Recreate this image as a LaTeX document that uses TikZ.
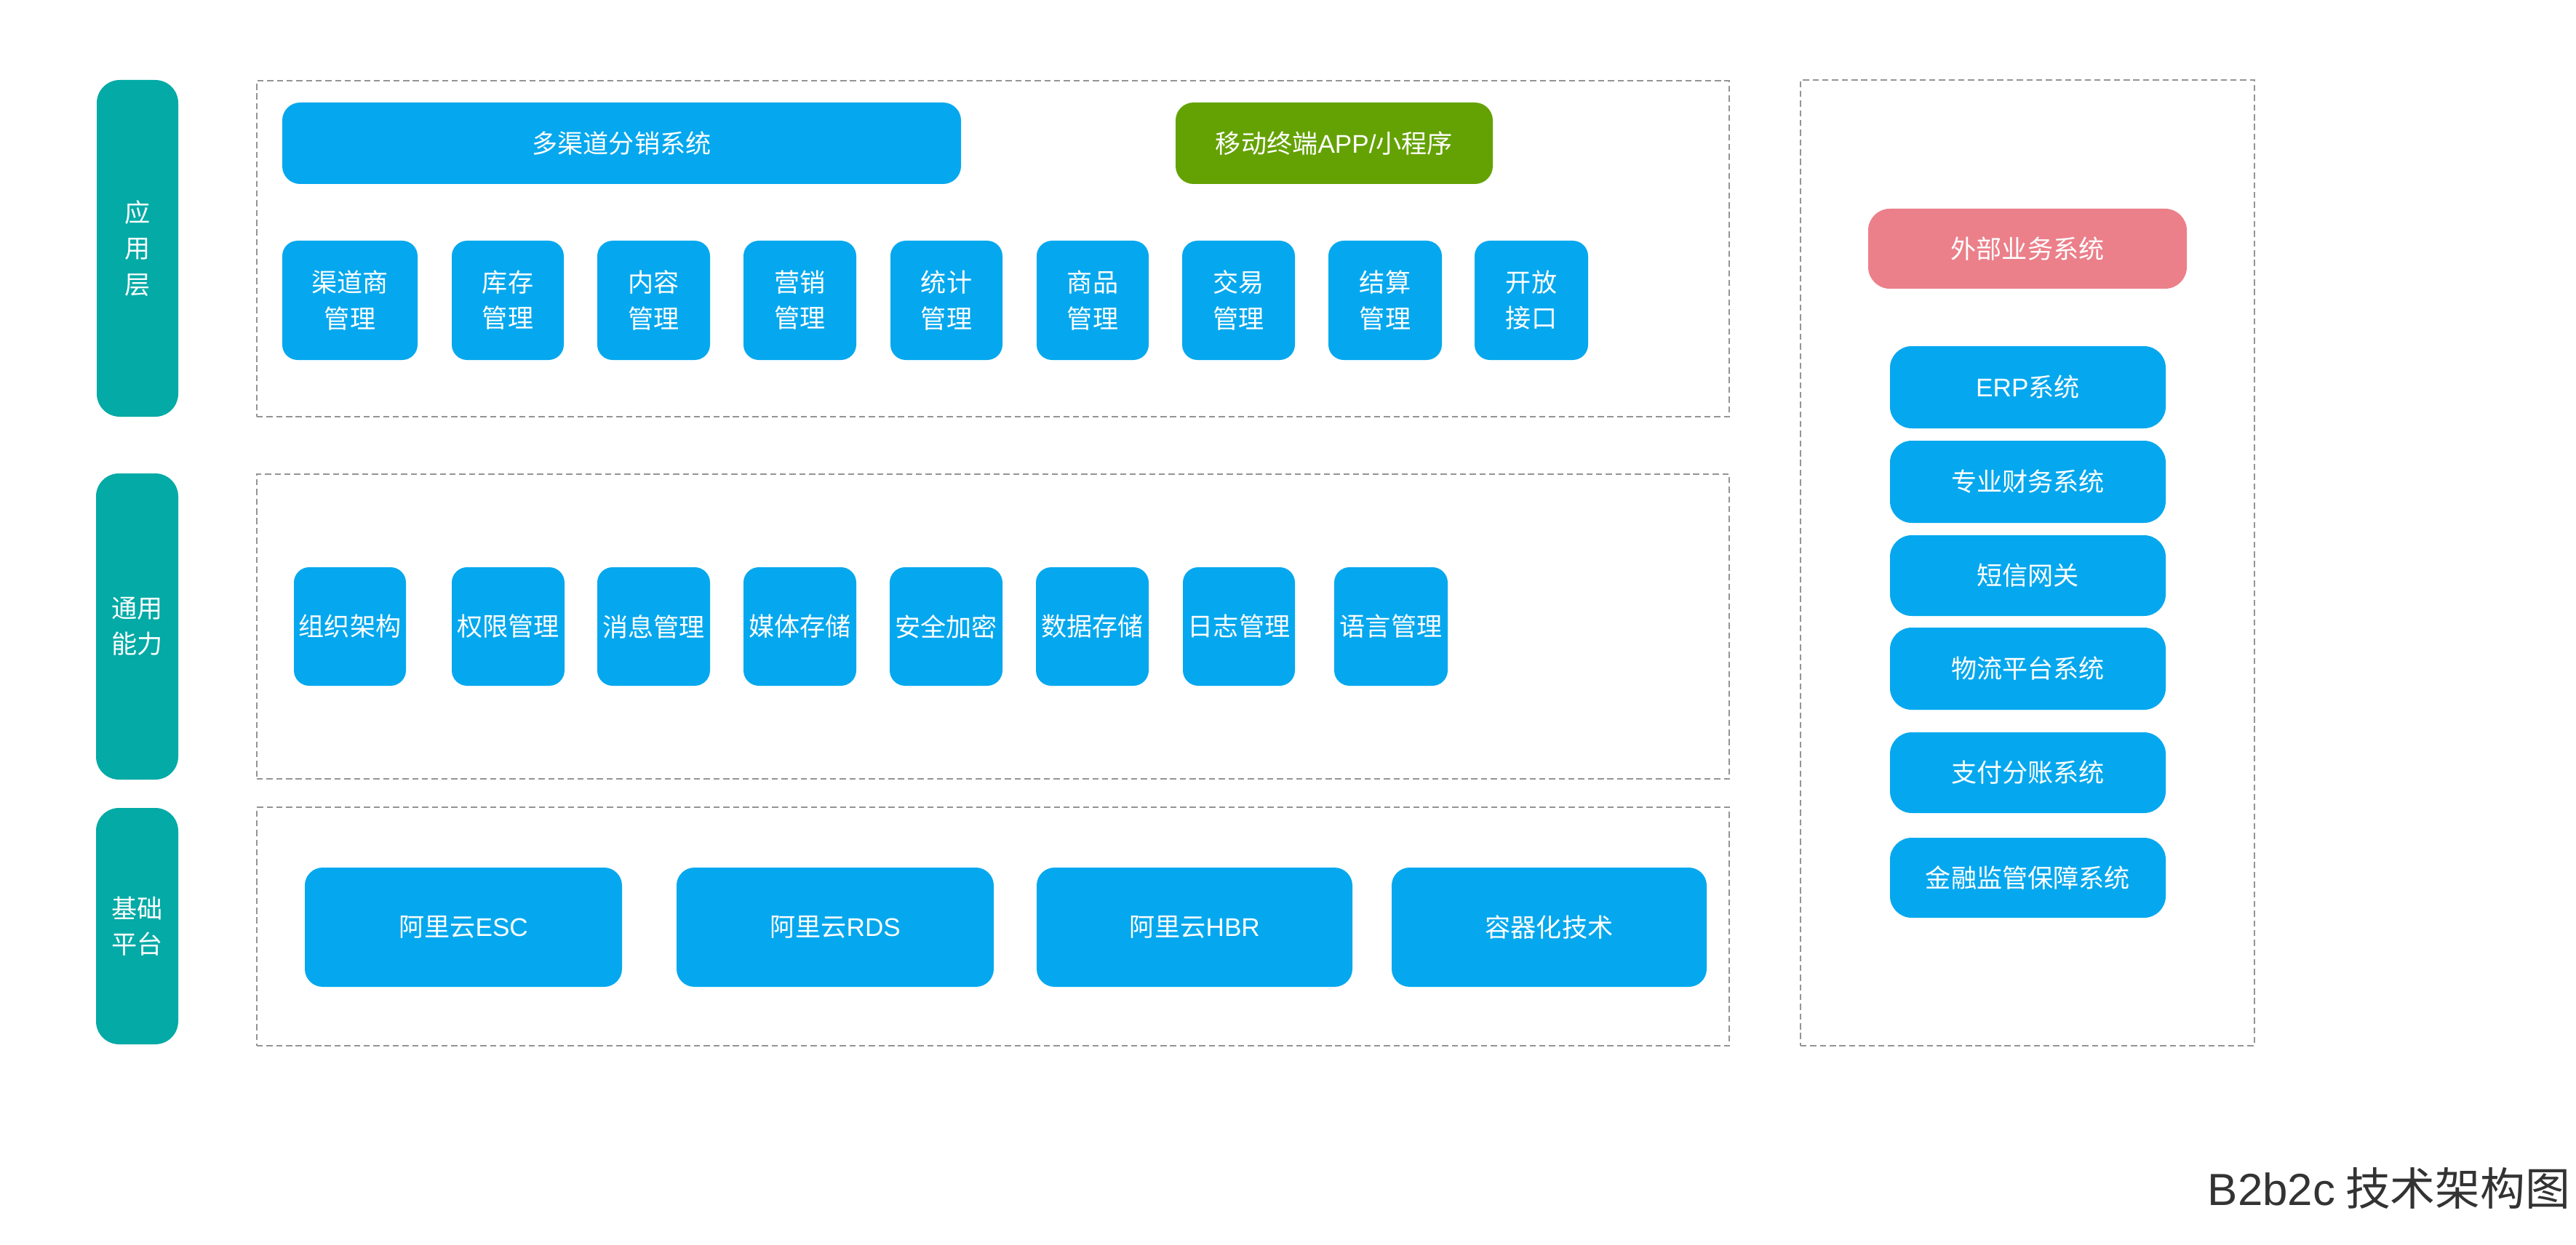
\documentclass[tikz,border=0pt]{standalone}
\usepackage{fontspec}
\setmainfont{Noto Sans CJK SC}
\newfontfamily\latf{Liberation Sans}
\newcommand{\lat}[1]{{\latf #1}}
\definecolor{cblue}{HTML}{05A8EE}
\definecolor{cteal}{HTML}{03AAA6}
\definecolor{cgreen}{HTML}{64A203}
\definecolor{cpink}{HTML}{EB808A}
\definecolor{cdash}{HTML}{949494}
\definecolor{cfoot}{HTML}{333333}
\newcommand{\bx}[7]{%
  \pgfmathsetmacro\mybw{(#4-#2)/100}\pgfmathsetmacro\mybh{(#5-#3)/100}%
  \node[#6, minimum width=\mybw cm, minimum height=\mybh cm] (#1) at ({(#2+#4)/200},{-(#3+#5)/200}) {#7};}
\tikzset{
  boxbase/.style={rectangle, inner sep=0pt, text=white, font=\fontsize{10pt}{14pt}\selectfont, align=center},
  bluebox/.style={boxbase, fill=cblue, rounded corners=6pt},
  sidebox/.style={boxbase, fill=cblue, rounded corners=8.5pt},
  tealbar/.style={boxbase, fill=cteal, rounded corners=9pt},
  greenbox/.style={boxbase, fill=cgreen, rounded corners=7pt},
  pinkbox/.style={boxbase, fill=cpink, rounded corners=8.5pt},
  dashbox/.style={rectangle, inner sep=0pt, draw=cdash, line width=0.5pt, dash pattern=on 2.4pt off 1.4pt},
}
\begin{document}
\begin{tikzpicture}
\useasboundingbox[fill=white] (0,0) rectangle (35.41,-17.12);
% dashed containers
\bx{dapp}{353}{111}{2377}{573}{dashbox}{}
\bx{dgen}{353}{652}{2377}{1071}{dashbox}{}
\bx{dbase}{353}{1110}{2377}{1438}{dashbox}{}
\bx{dext}{2475}{110}{3099}{1438}{dashbox}{}
% layer labels
\bx{l1}{133}{110}{245}{573}{tealbar}{应\\用\\层}
\bx{l2}{132}{651}{245}{1072}{tealbar}{通用\\能力}
\bx{l3}{132}{1111}{245}{1436}{tealbar}{基础\\平台}
% application layer
\bx{multi}{388}{141}{1321}{253}{bluebox, rounded corners=7pt}{多渠道分销系统}
\bx{mobile}{1616}{141}{2052}{253}{greenbox}{移动终端\lat{APP/}小程序}
\bx{a1}{388}{331}{574}{495}{bluebox}{渠道商\\管理}
\bx{a2}{621}{331}{775}{495}{bluebox}{库存\\管理}
\bx{a3}{821}{331}{976}{495}{bluebox}{内容\\管理}
\bx{a4}{1022}{331}{1177}{495}{bluebox}{营销\\管理}
\bx{a5}{1224}{331}{1378}{495}{bluebox}{统计\\管理}
\bx{a6}{1425}{331}{1579}{495}{bluebox}{商品\\管理}
\bx{a7}{1625}{331}{1780}{495}{bluebox}{交易\\管理}
\bx{a8}{1826}{331}{1982}{495}{bluebox}{结算\\管理}
\bx{a9}{2027}{331}{2183}{495}{bluebox}{开放\\接口}
% general capability
\bx{g1}{404}{780}{558}{943}{bluebox}{组织架构}
\bx{g2}{621}{780}{776}{943}{bluebox}{权限管理}
\bx{g3}{821}{780}{976}{943}{bluebox}{消息管理}
\bx{g4}{1022}{780}{1177}{943}{bluebox}{媒体存储}
\bx{g5}{1223}{780}{1378}{943}{bluebox}{安全加密}
\bx{g6}{1424}{780}{1579}{943}{bluebox}{数据存储}
\bx{g7}{1626}{780}{1780}{943}{bluebox}{日志管理}
\bx{g8}{1834}{780}{1990}{943}{bluebox}{语言管理}
% base platform
\bx{b1}{419}{1193}{855}{1357}{bluebox, rounded corners=7pt}{阿里云\lat{ESC}}
\bx{b2}{930}{1193}{1366}{1357}{bluebox, rounded corners=7pt}{阿里云\lat{RDS}}
\bx{b3}{1425}{1193}{1859}{1357}{bluebox, rounded corners=7pt}{阿里云\lat{HBR}}
\bx{b4}{1913}{1193}{2346}{1357}{bluebox, rounded corners=7pt}{容器化技术}
% external systems
\bx{e0}{2568}{287}{3006}{397}{pinkbox}{外部业务系统}
\bx{e1}{2598}{476}{2977}{589}{sidebox}{\lat{ERP}系统}
\bx{e2}{2598}{606}{2977}{719}{sidebox}{专业财务系统}
\bx{e3}{2598}{736}{2977}{847}{sidebox}{短信网关}
\bx{e4}{2598}{863}{2977}{976}{sidebox}{物流平台系统}
\bx{e5}{2598}{1007}{2977}{1118}{sidebox}{支付分账系统}
\bx{e6}{2598}{1152}{2977}{1262}{sidebox}{金融监管保障系统}
% footer
\node[anchor=base east, inner sep=0pt, text=cfoot, font=\fontsize{17.6pt}{20pt}\selectfont] (title) at (35.34,-16.57) {\lat{B2b2c} 技术架构图};
\end{tikzpicture}
\end{document}
